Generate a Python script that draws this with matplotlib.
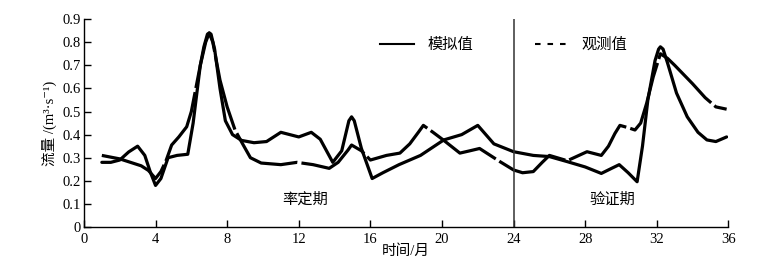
import matplotlib
matplotlib.use("Agg")
import matplotlib.pyplot as plt
from matplotlib.lines import Line2D

plt.rcParams["font.family"] = ["Liberation Serif", "Noto Sans CJK SC", "DejaVu Serif"]
plt.rcParams["lines.scale_dashes"] = False

# 模拟值
sim_t = [1, 1.5, 2, 2.5, 3, 3.4, 3.7, 4.0, 4.3, 4.7, 5.2, 5.8, 6.1, 6.5, 6.7, 6.9, 7.0, 7.1,
         7.3, 7.6, 7.9, 8.3, 8.8, 9.5, 10.2, 11.0, 12.0, 12.7, 13.2, 13.9, 14.4, 14.8, 14.95,
         15.1, 15.5, 16.1, 16.7, 17.6, 18.8, 20.1, 21.1, 22.0, 22.9, 24.0, 25.1, 26.0, 27.0,
         28.0, 28.9, 29.5, 29.9, 30.4, 30.9, 31.2, 31.5, 31.9, 32.1, 32.2, 32.35, 32.6, 33.1,
         33.7, 34.3, 34.8, 35.3, 35.9]
sim_v = [0.28, 0.28, 0.29, 0.325, 0.35, 0.31, 0.24, 0.18, 0.21, 0.30, 0.31, 0.315, 0.45, 0.70,
         0.78, 0.835, 0.84, 0.835, 0.77, 0.60, 0.46, 0.40, 0.375, 0.365, 0.37, 0.41, 0.39, 0.41,
         0.38, 0.28, 0.33, 0.46, 0.477, 0.46, 0.34, 0.21, 0.235, 0.27, 0.31, 0.377, 0.40, 0.44,
         0.36, 0.326, 0.31, 0.305, 0.283, 0.26, 0.232, 0.255, 0.27, 0.235, 0.196, 0.35, 0.55,
         0.72, 0.77, 0.78, 0.77, 0.71, 0.58, 0.477, 0.41, 0.377, 0.37, 0.39]

# 观测值
obs_t = [1, 2, 2.6, 3.2, 3.6, 4.0, 4.3, 4.6, 4.9, 5.3, 5.74, 6.0, 6.2, 6.5, 6.8, 7.0, 7.2, 7.6,
         8.0, 8.44, 8.9, 9.3, 9.9, 11.0, 11.9, 12.8, 13.7, 14.2, 14.75, 14.95, 15.5, 16.0, 16.9,
         17.65, 18.2, 18.68, 18.96, 19.5, 20.07, 21.0, 21.56, 22.1, 23.24, 24.0, 24.5, 25.1,
         25.6, 26.0, 27.0, 28.1, 28.9, 29.3, 29.66, 29.94, 30.4, 30.78, 31.1, 31.43, 31.8,
         32.2, 32.6, 33.0, 34.0, 34.7, 35.3, 35.9]
obs_v = [0.31, 0.295, 0.28, 0.265, 0.245, 0.21, 0.24, 0.29, 0.355, 0.39, 0.434, 0.50, 0.58,
         0.70, 0.80, 0.84, 0.80, 0.636, 0.52, 0.42, 0.355, 0.30, 0.277, 0.27, 0.28, 0.27, 0.254,
         0.28, 0.333, 0.355, 0.33, 0.29, 0.31, 0.32, 0.36, 0.41, 0.44, 0.41, 0.377, 0.32, 0.33,
         0.34, 0.283, 0.247, 0.235, 0.24, 0.28, 0.31, 0.287, 0.326, 0.31, 0.35, 0.405, 0.44,
         0.43, 0.42, 0.45, 0.535, 0.65, 0.75, 0.73, 0.70, 0.62, 0.56, 0.52, 0.51]

split_t = 24
xticks = [0, 4, 8, 12, 16, 20, 24, 28, 32, 36]
yticks = [0, 0.1, 0.2, 0.3, 0.4, 0.5, 0.6, 0.7, 0.8, 0.9]

fig = plt.figure(figsize=(7.7, 2.69), dpi=100)
ax = fig.add_axes([0.109, 0.156, 0.837, 0.773])

ax.plot(sim_t, sim_v, color="black", lw=2.3, solid_capstyle="round")
ax.plot(obs_t, obs_v, color="black", lw=2.3, dashes=(55, 3), dash_capstyle="butt")
ax.axvline(split_t, color="#333333", lw=1.1)

ax.set_xlim(0, 36)
ax.set_ylim(0, 0.9)
ax.set_xticks(xticks)
ax.set_yticks(yticks)
ax.set_yticklabels(["0"] + [f"{v:.1f}" for v in yticks[1:]])
ax.spines["top"].set_visible(False)
ax.spines["right"].set_visible(False)
for s in ["left", "bottom"]:
    ax.spines[s].set_linewidth(1.0)
ax.tick_params(direction="in", length=5, width=1.0, labelsize=10.5)
ax.tick_params(axis="y", pad=2)
ax.tick_params(axis="x", pad=4)

ax.set_xlabel("时间/月", fontsize=10.5, labelpad=-1)
ax.set_ylabel("流量 /(m³·s⁻¹)", fontsize=10.5, labelpad=4)

ax.text(12.35, 0.12, "率定期", fontsize=11, ha="center", va="center")
ax.text(29.5, 0.12, "验证期", fontsize=11, ha="center", va="center")

handles = [Line2D([], [], color="black", lw=1.5),
           Line2D([], [], color="black", lw=1.5, dashes=(4, 5))]
ax.legend(handles, ["模拟值", "观测值"], loc="upper left", bbox_to_anchor=(0.46, 0.91),
          ncol=2, frameon=False, fontsize=11, handlelength=2.2, handletextpad=0.9,
          columnspacing=4.0, borderpad=0, borderaxespad=0)

fig.savefig("out.png", dpi=100)
